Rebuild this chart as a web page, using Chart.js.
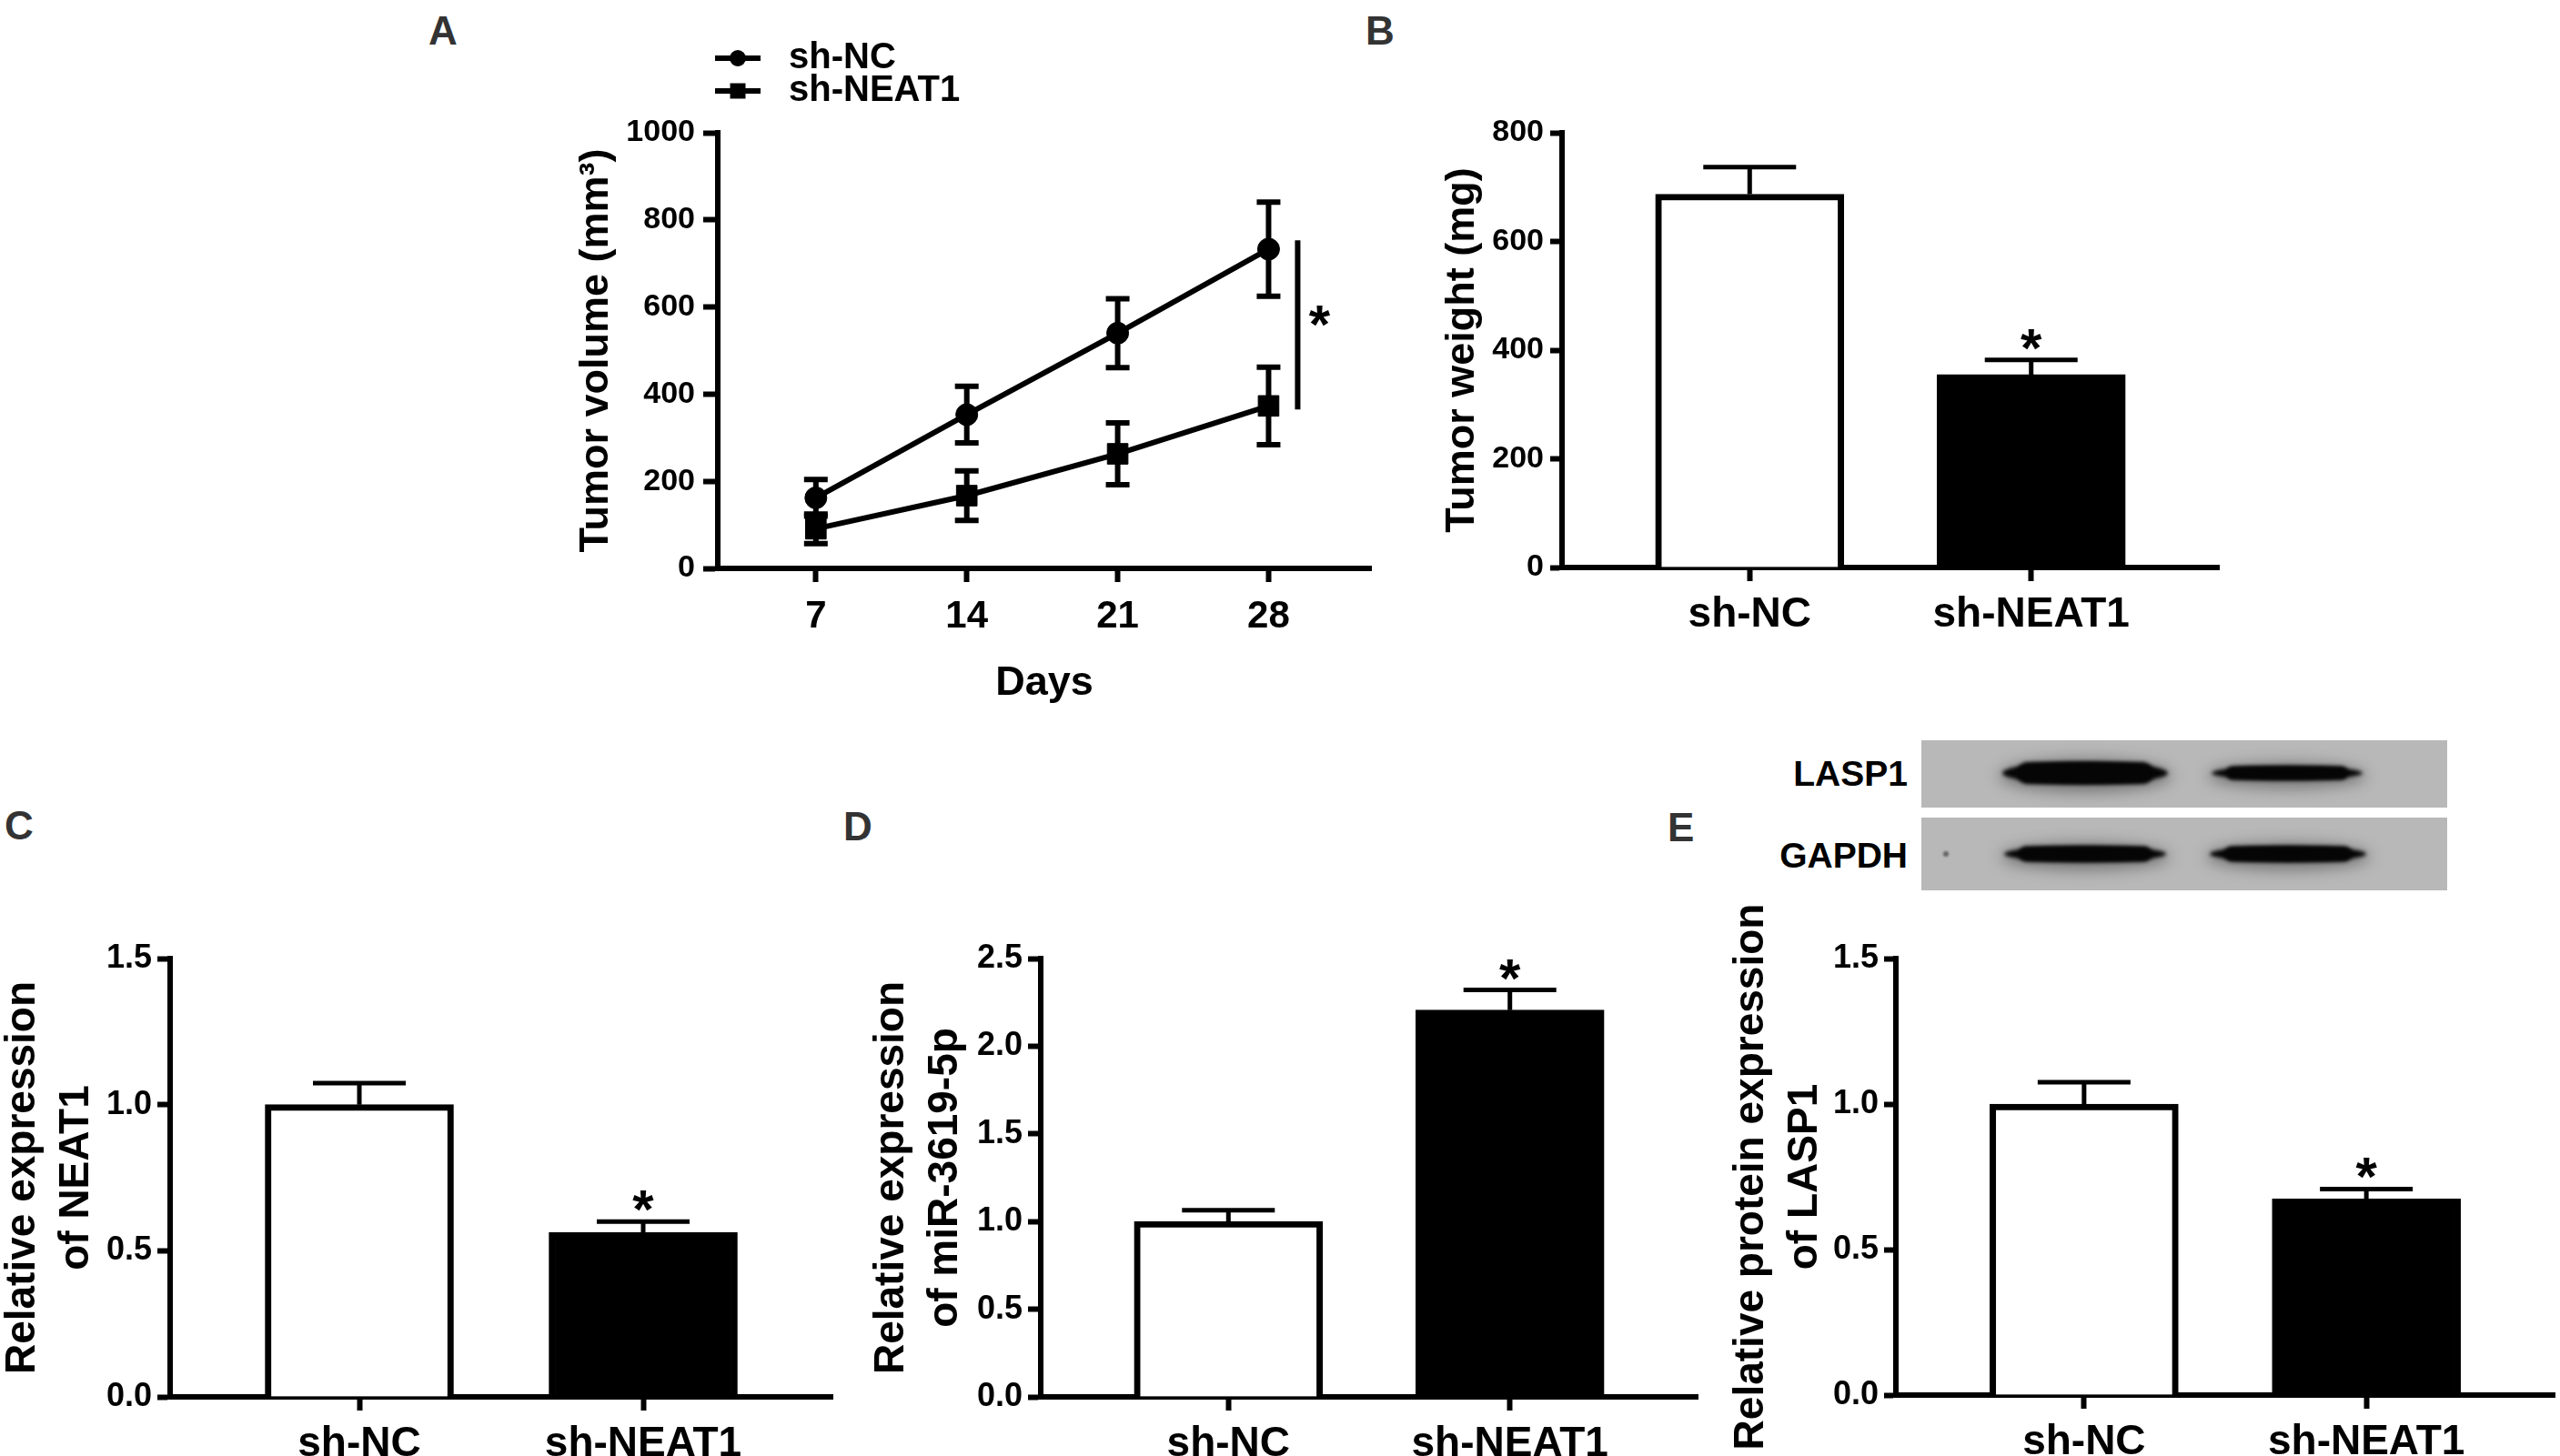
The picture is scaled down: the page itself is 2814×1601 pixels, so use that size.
<!DOCTYPE html>
<html>
<head>
<meta charset="utf-8">
<script src="https://cdn.jsdelivr.net/npm/chart.js@4.4.1/dist/chart.umd.min.js"></script>
<style>
  html, body { margin: 0; padding: 0; background: #fff; }
  #page { position: relative; width: 2814px; height: 1601px; overflow: hidden; background: #fff;
          font-family: 'Liberation Sans', Arial, sans-serif; }
  canvas { position: absolute; }
  .panel { position: absolute; font-weight: bold; font-size: 44px; line-height: 1; color: #333; }
  .blot-label { position: absolute; width: 300px; text-align: right; font-weight: bold; font-size: 39px; line-height: 1; color: #000; }
</style>
</head>
<body>
<div id="page">
  <div class="panel" style="left:471px;top:12px">A</div>
  <div class="panel" style="left:1501px;top:12px">B</div>
  <div class="panel" style="left:5px;top:886px">C</div>
  <div class="panel" style="left:927px;top:887px">D</div>
  <div class="panel" style="left:1833px;top:888px">E</div>

  <canvas id="chartA"></canvas>
  <canvas id="chartB"></canvas>
  <canvas id="chartC"></canvas>
  <canvas id="chartD"></canvas>
  <canvas id="chartE"></canvas>

  <canvas id="blot" style="left:2112px;top:814px"></canvas>
  <div class="blot-label" style="left:1797px;top:831px">LASP1</div>
  <div class="blot-label" style="left:1797px;top:921px">GAPDH</div>
</div>

<script>
// ---- dados ----
const days = [7, 14, 21, 28];
const volumeNC = [162, 353, 540, 733];
const volumeNCErr = [42, 65, 79, 108];
const volumeNEAT1 = [91, 167, 263, 373];
const volumeNEAT1Err = [34, 57, 71, 89];
const volumeTicks = [0, 200, 400, 600, 800, 1000];

const groups = ['sh-NC', 'sh-NEAT1'];
const starred = [false, true];

const tumorWeight = [687, 355];
const tumorWeightErr = [50, 27];
const weightTicks = [0, 200, 400, 600, 800];

const neat1Expr = [1.0, 0.563];
const neat1Err = [0.074, 0.037];
const mirExpr = [1.0, 2.206];
const mirErr = [0.064, 0.115];
const lasp1Expr = [1.0, 0.674];
const lasp1Err = [0.075, 0.034];
const exprTicks = [0, 0.5, 1.0, 1.5];
const mirTicks = [0, 0.5, 1.0, 1.5, 2.0, 2.5];

const FONT = "'Liberation Sans', Arial, Helvetica, sans-serif";

// barras de erro + asterisco, desenhadas pelas escalas do grafico
const errorBars = {
    id: 'errorBars',
    afterDatasetsDraw(chart, args, opts) {
        const ctx = chart.ctx;
        const ys = chart.scales.y;
        chart.data.datasets.forEach((ds, di) => {
            const meta = chart.getDatasetMeta(di);
            meta.data.forEach((el, i) => {
                const v = ds.data[i].y;
                const top = ys.getPixelForValue(v + ds.errors[i]);
                const bot = opts.both ? ys.getPixelForValue(v - ds.errors[i]) : el.y;
                ctx.save();
                ctx.strokeStyle = '#000';
                ctx.lineWidth = opts.width;
                ctx.beginPath();
                ctx.moveTo(el.x, top);
                ctx.lineTo(el.x, bot);
                ctx.moveTo(el.x - opts.cap / 2, top);
                ctx.lineTo(el.x + opts.cap / 2, top);
                if (opts.both) {
                    ctx.moveTo(el.x - opts.cap / 2, bot);
                    ctx.lineTo(el.x + opts.cap / 2, bot);
                }
                ctx.stroke();
                if (ds.stars && ds.stars[i]) {
                    ctx.fillStyle = '#000';
                    ctx.font = 'bold 60px ' + FONT;
                    ctx.textAlign = 'center';
                    ctx.textBaseline = 'alphabetic';
                    ctx.fillText('*', el.x, top + 7);
                }
                ctx.restore();
            });
        });
    }
};

// barra de significancia do painel A
const sigBar = {
    id: 'sigBar',
    afterDatasetsDraw(chart, args, o) {
        const ctx = chart.ctx;
        const px = chart.scales.x.getPixelForValue(o.at);
        const y1 = chart.scales.y.getPixelForValue(o.from);
        const y2 = chart.scales.y.getPixelForValue(o.to);
        ctx.save();
        ctx.strokeStyle = '#000';
        ctx.lineWidth = 6;
        ctx.beginPath();
        ctx.moveTo(px, y1);
        ctx.lineTo(px, y2);
        ctx.stroke();
        ctx.fillStyle = '#000';
        ctx.font = 'bold 60px ' + FONT;
        ctx.textAlign = 'center';
        ctx.textBaseline = 'alphabetic';
        ctx.fillText('*', px + 24, (y1 + y2) / 2 + 20);
        ctx.restore();
    }
};

// legenda com linha + marcador
const lineLegend = {
    id: 'lineLegend',
    afterDraw(chart, args, o) {
        const ctx = chart.ctx;
        chart.data.datasets.forEach((ds, i) => {
            const y = o.y + i * o.gap;
            ctx.save();
            ctx.strokeStyle = '#000';
            ctx.fillStyle = '#000';
            ctx.lineWidth = 6;
            ctx.beginPath();
            ctx.moveTo(o.x, y);
            ctx.lineTo(o.x + o.len, y);
            ctx.stroke();
            Chart.helpers.drawPoint(ctx, { pointStyle: ds.pointStyle, radius: o.radius[i], rotation: 0, borderWidth: 0 }, o.x + o.len / 2, y);
            ctx.font = 'bold 40px ' + FONT;
            ctx.textBaseline = 'middle';
            ctx.textAlign = 'left';
            ctx.fillText(ds.label, o.x + o.textDx, y);
            ctx.restore();
        });
    }
};

function place(id, p) {
    const c = document.getElementById(id);
    const top = p.t - p.pt;
    c.width = Math.round(p.r + p.pr - p.cl);
    c.height = Math.round(p.b + p.axh - top);
    c.style.left = p.cl + 'px';
    c.style.top = top + 'px';
    return c;
}

function yAxis(ticks, title, o) {
    return {
        type: 'linear',
        position: 'left',
        min: ticks[0],
        max: ticks[ticks.length - 1],
        afterBuildTicks: s => { s.ticks = ticks.map(v => ({ value: v })); },
        afterFit: s => { s.width = o.width; },
        border: { display: true, color: '#000', width: 6 },
        grid: { drawOnChartArea: false, drawTicks: true, tickLength: o.tick, tickWidth: 6, tickColor: '#000' },
        ticks: {
            autoSkip: false, color: '#000', padding: o.pad,
            font: { family: FONT, size: o.size, weight: 'bold' },
            callback: o.fmt || (v => v)
        },
        title: {
            display: true, text: title, color: '#000', padding: 0,
            font: { family: FONT, size: o.titleSize, weight: 'bold', lineHeight: o.lh }
        }
    };
}

function xBars(height) {
    return {
        type: 'linear',
        position: 'bottom',
        min: 1 / 3,
        max: 8 / 3,
        offset: false,
        afterBuildTicks: s => { s.ticks = groups.map((g, i) => ({ value: i + 1 })); },
        afterFit: s => { s.height = height; },
        border: { display: true, color: '#000', width: 6 },
        grid: { offset: false, drawOnChartArea: false, drawTicks: true, tickLength: 15, tickWidth: 6, tickColor: '#000' },
        ticks: {
            autoSkip: false, maxRotation: 0, color: '#000', padding: 10,
            font: { family: FONT, size: 46, weight: 'bold' },
            callback: (v, i) => groups[i]
        }
    };
}

function barChart(id, p, values, errors, ticks, title, yo) {
    place(id, p);
    return new Chart(document.getElementById(id), {
        type: 'bar',
        data: {
            datasets: [{
                data: values.map((v, i) => ({ x: i + 1, y: v })),
                errors: errors,
                stars: starred,
                barThickness: 207,
                backgroundColor: ['#fff', '#000'],
                borderColor: '#000',
                borderWidth: 7
            }]
        },
        options: {
            responsive: false,
            animation: false,
            layout: { padding: { top: p.pt, right: p.pr, left: 0, bottom: 0 } },
            scales: { x: xBars(p.axh), y: yAxis(ticks, title, Object.assign({ width: p.l - p.cl }, yo)) },
            plugins: {
                legend: { display: false },
                tooltip: { enabled: false },
                errorBars: { both: false, cap: 102, width: 5 }
            }
        },
        plugins: [errorBars]
    });
}

// ---- painel A: volume tumoral ----
const pA = { cl: 629, l: 789, r: 1507, t: 146, b: 625, pt: 146, pr: 40, axh: 154 };
place('chartA', pA);
new Chart(document.getElementById('chartA'), {
    type: 'line',
    data: {
        datasets: [{
            label: 'sh-NC',
            data: days.map((d, i) => ({ x: d, y: volumeNC[i] })),
            errors: volumeNCErr,
            pointStyle: 'circle',
            pointRadius: 12,
            borderColor: '#000', borderWidth: 6,
            pointBackgroundColor: '#000', pointBorderColor: '#000', pointBorderWidth: 1
        }, {
            label: 'sh-NEAT1',
            data: days.map((d, i) => ({ x: d, y: volumeNEAT1[i] })),
            errors: volumeNEAT1Err,
            pointStyle: 'rect',
            pointRadius: 16,
            borderColor: '#000', borderWidth: 6,
            pointBackgroundColor: '#000', pointBorderColor: '#000', pointBorderWidth: 1
        }]
    },
    options: {
        responsive: false,
        animation: false,
        layout: { padding: { top: pA.pt, right: pA.pr, left: 0, bottom: 0 } },
        scales: {
            x: {
                type: 'linear', position: 'bottom', min: 2.45, max: 32.75,
                afterBuildTicks: s => { s.ticks = days.map(v => ({ value: v })); },
                afterFit: s => { s.height = pA.axh; },
                border: { display: true, color: '#000', width: 6 },
                grid: { drawOnChartArea: false, drawTicks: true, tickLength: 15, tickWidth: 6, tickColor: '#000' },
                ticks: { autoSkip: false, maxRotation: 0, color: '#000', padding: 13, font: { family: FONT, size: 42, weight: 'bold' } },
                title: { display: true, text: 'Days', color: '#000', padding: 0, font: { family: FONT, size: 45, weight: 'bold', lineHeight: 1.2 } }
            },
            y: yAxis(volumeTicks, 'Tumor volume (mm³)', { width: pA.l - pA.cl, tick: 16, pad: 9, size: 34, titleSize: 45, lh: 1.2 })
        },
        plugins: {
            legend: { display: false },
            tooltip: { enabled: false },
            errorBars: { both: true, cap: 26, width: 6 },
            sigBar: { at: 29.35, from: 365, to: 753 },
            lineLegend: { x: 157, y: 64, gap: 36, len: 50, textDx: 81, radius: [9, 12] }
        }
    },
    plugins: [errorBars, sigBar, lineLegend]
});

// ---- painel B: peso tumoral ----
barChart('chartB', { cl: 1581, l: 1717, r: 2439, t: 146, b: 624, pt: 50, pr: 30, axh: 90 },
    tumorWeight, tumorWeightErr, weightTicks, 'Tumor weight (mg)',
    { tick: 13, pad: 7, size: 34, titleSize: 45, lh: 1.2 });

// ---- paineis C, D, E ----
const fmt1 = v => v.toFixed(1);
barChart('chartC', { cl: -5, l: 187, r: 915, t: 1054, b: 1536, pt: 90, pr: 30, axh: 70 },
    neat1Expr, neat1Err, exprTicks, ['Relative expression', 'of NEAT1'],
    { tick: 14, pad: 6, size: 36, titleSize: 46, lh: 1.3, fmt: fmt1 });
barChart('chartD', { cl: 950, l: 1144, r: 1866, t: 1054, b: 1536, pt: 90, pr: 30, axh: 70 },
    mirExpr, mirErr, mirTicks, ['Relative expression', 'of miR-3619-5p'],
    { tick: 14, pad: 6, size: 36, titleSize: 46, lh: 1.3, fmt: fmt1 });
barChart('chartE', { cl: 1895, l: 2084, r: 2808, t: 1054, b: 1534, pt: 90, pr: 30, axh: 70 },
    lasp1Expr, lasp1Err, exprTicks, ['Relative protein expression', 'of LASP1'],
    { tick: 13, pad: 6, size: 36, titleSize: 46, lh: 1.3, fmt: fmt1 });

// ---- western blot (imagem, nao dados) ----
function drawBlot() {
    const c = document.getElementById('blot');
    c.width = 578;
    c.height = 165;
    const g = c.getContext('2d');
    g.fillStyle = '#b8b8b8';
    g.fillRect(0, 0, 578, 74);
    g.fillRect(0, 85, 578, 80);
    // [x, centro y, largura, espessura]
    const bands = [[89, 36, 182, 24], [319, 36, 166, 15], [91, 125, 178, 17], [317, 125, 172, 17]];
    bands.forEach(b => {
        // halo difuso
        g.filter = 'blur(8px)';
        g.fillStyle = 'rgba(40,40,40,0.45)';
        g.beginPath();
        g.ellipse(b[0] + b[2] / 2, b[1] + 3, b[2] / 2 + 4, b[3] / 2 + 6, 0, 0, Math.PI * 2);
        g.fill();
        // banda
        g.filter = 'blur(2px)';
        g.fillStyle = '#050505';
        g.beginPath();
        g.ellipse(b[0] + b[2] / 2, b[1], b[2] / 2, b[3] / 2, 0, 0, Math.PI * 2);
        g.fill();
        g.beginPath();
        g.roundRect(b[0] + 16, b[1] - b[3] / 2, b[2] - 32, b[3], b[3] / 2);
        g.fill();
    });
    g.filter = 'blur(1px)';
    g.fillStyle = '#666';
    g.beginPath();
    g.arc(27, 125, 3, 0, Math.PI * 2);
    g.fill();
}
drawBlot();
</script>
</body>
</html>
